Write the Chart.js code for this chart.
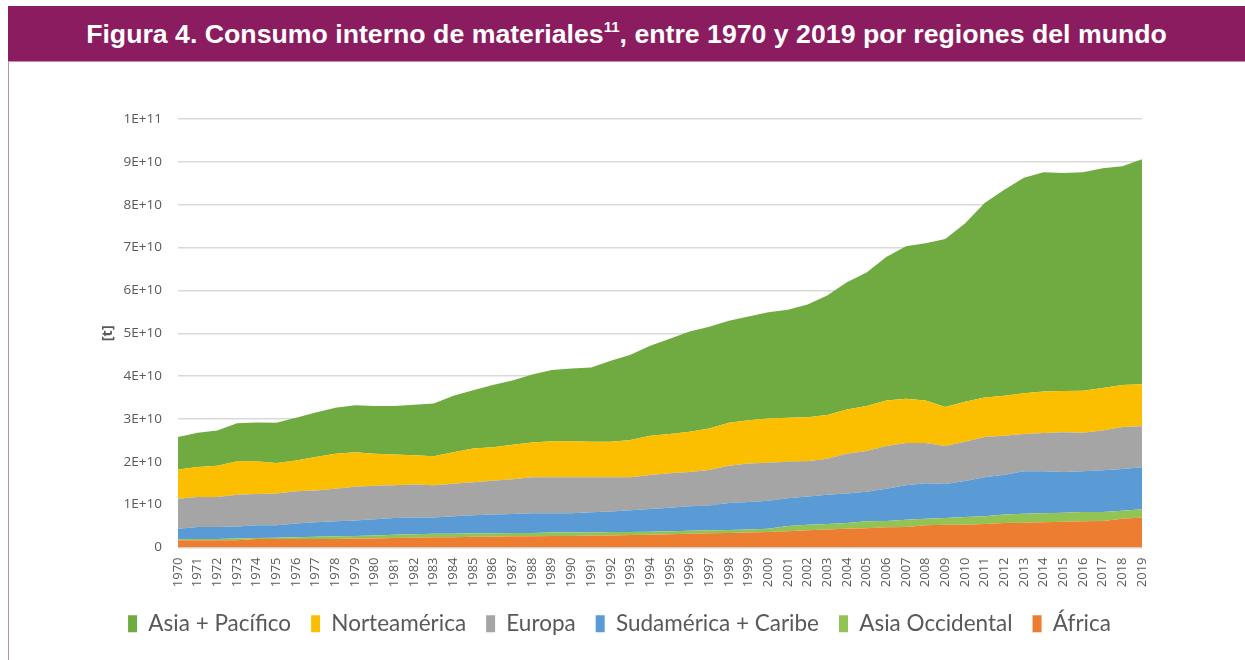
<!DOCTYPE html>
<html>
<head>
<meta charset="utf-8">
<script src="https://cdn.jsdelivr.net/npm/chart.js@4.4.1/dist/chart.umd.min.js"></script>
<style>
  body { margin: 0; background: #fff; width: 1245px; height: 660px; overflow: hidden; position: relative; }
  #header {
    position: absolute; left: 8px; top: 6px; width: 1237px; height: 55px;
    background: #8a1c5f; border-bottom: 1px solid #c58bb0;
    color: #fff; font: bold 26.7px "Liberation Sans", Arial, sans-serif;
    text-align: center; line-height: 56px;
  }
  #header sup { font-size: 15px; line-height: 0; vertical-align: 11px; }
  #frame { position: absolute; left: 8px; top: 62px; width: 1px; height: 598px; background: #c58bb0; }
  #wrap { position: absolute; left: 0; top: 62px; width: 1245px; height: 598px; }
</style>
</head>
<body>
<div id="header">Figura 4. Consumo interno de materiales<sup>11</sup>, entre 1970 y 2019 por regiones del mundo</div>
<div id="frame"></div>
<div id="wrap"><canvas id="chart"></canvas></div>
<script>
// years on the x axis
const years = [];
for (let y = 1970; y <= 2019; y++) years.push(String(y));

// consumption per region, in 1E+09 t
const africa = [1.7,1.7,1.7,1.7,2.0,2.0,2.0,2.0,2.0,2.1,2.1,2.2,2.3,2.4,2.4,2.5,2.5,2.6,2.6,2.7,
  2.7,2.8,2.8,2.9,3.0,3.1,3.2,3.3,3.4,3.5,3.6,3.8,4.0,4.2,4.4,4.5,4.7,4.8,5.2,5.3,
  5.3,5.5,5.7,5.8,5.9,6.0,6.1,6.2,6.7,7.0];
const asiaOcc = [0.2,0.3,0.3,0.4,0.2,0.3,0.4,0.5,0.6,0.6,0.7,0.8,0.8,0.8,0.8,0.8,0.8,0.8,0.8,0.8,
  0.8,0.7,0.8,0.7,0.7,0.7,0.7,0.7,0.7,0.7,0.8,1.2,1.3,1.3,1.3,1.6,1.5,1.7,1.5,1.6,
  1.8,1.8,2.0,2.1,2.1,2.1,2.2,2.1,1.9,1.9];
const sudamerica = [2.5,2.8,2.8,2.8,3.0,2.9,3.2,3.4,3.5,3.6,3.8,3.9,3.9,3.8,4.1,4.2,4.4,4.4,4.6,4.5,
  4.5,4.7,4.8,5.1,5.3,5.5,5.7,5.8,6.3,6.4,6.5,6.5,6.6,6.8,6.9,6.9,7.5,8.0,8.3,7.9,
  8.4,9.1,9.3,9.9,9.8,9.5,9.5,9.7,9.7,9.8];
const europa = [7.0,7.0,7.0,7.4,7.3,7.4,7.5,7.4,7.6,7.9,7.8,7.6,7.7,7.5,7.6,7.7,7.9,8.1,8.4,8.4,
  8.4,8.2,8.0,7.7,7.9,8.0,8.0,8.3,8.7,9.0,8.9,8.5,8.2,8.4,9.3,9.5,10.0,9.9,9.4,8.9,
  9.2,9.4,9.1,8.7,8.9,9.3,9.0,9.3,9.8,9.6];
const norteamerica = [6.8,7.0,7.3,7.8,7.6,7.1,7.2,7.8,8.2,8.0,7.5,7.2,6.8,6.8,7.3,7.9,7.8,8.1,8.1,8.4,
  8.4,8.3,8.3,8.7,9.2,9.2,9.4,9.7,10.0,10.1,10.3,10.3,10.3,10.2,10.3,10.5,10.6,10.3,9.9,9.1,
  9.3,9.2,9.3,9.5,9.7,9.6,9.8,9.9,9.8,9.8];
const asiaPacifico = [7.6,8.0,8.2,8.9,9.1,9.4,10.0,10.4,10.7,11.0,11.1,11.3,11.8,12.3,13.2,13.6,14.5,15.0,15.9,16.6,
  17.0,17.3,18.9,19.9,21.0,22.2,23.4,23.7,23.8,24.2,24.8,25.2,26.3,27.9,29.7,31.2,33.5,35.6,36.7,39.2,
  41.6,45.4,48.1,50.3,51.2,50.9,51.0,51.3,51.1,52.5];

// bottom of the stack first
const series = [
  { label: "África", values: africa, color: "#ed7d31" },
  { label: "Asia Occidental", values: asiaOcc, color: "#92c455" },
  { label: "Sudamérica + Caribe", values: sudamerica, color: "#5b9bd5" },
  { label: "Europa", values: europa, color: "#a5a5a5" },
  { label: "Norteamérica", values: norteamerica, color: "#fbbf00" },
  { label: "Asia + Pacífico", values: asiaPacifico, color: "#70ab42" },
];

const datasets = series.map((s, i) => ({
  label: s.label,
  data: s.values.map((v) => v * 1e9),
  backgroundColor: s.color,
  borderColor: s.color,
  borderWidth: 0,
  pointRadius: 0,
  fill: i === 0 ? "origin" : "-1",
}));

const grey = "#595959";

new Chart("chart", {
  type: "line",
  data: { labels: years, datasets: datasets },
  options: {
    responsive: true,
    maintainAspectRatio: false,
    animation: false,
    layout: { padding: { left: 97, right: 103, top: 57, bottom: 15 } },
    plugins: {
      tooltip: { enabled: false },
      legend: {
        position: "bottom",
        reverse: true,
        labels: {
          boxWidth: 9,
          boxHeight: 17,
          padding: 20,
          color: grey,
          font: { family: "Lato, sans-serif", size: 22.5 },
        },
      },
    },
    scales: {
      x: {
        grid: { display: false, drawTicks: false },
        border: { display: false },
        ticks: {
          autoSkip: false,
          minRotation: 90,
          maxRotation: 90,
          padding: 10,
          color: grey,
          font: { family: "'Open Sans', sans-serif", size: 13 },
        },
        afterFit: (scale) => { scale.height = 45; },
      },
      y: {
        stacked: true,
        min: 0,
        max: 1e11,
        border: { display: false },
        grid: { color: "#d9d9d9", lineWidth: 1.5, drawTicks: false },
        title: {
          display: true,
          text: "[t]",
          color: grey,
          padding: { top: 2, bottom: 0 },
          font: { family: "'Open Sans', sans-serif", size: 14.5, weight: "bold" },
        },
        ticks: {
          stepSize: 1e10,
          padding: 16,
          color: grey,
          font: { family: "'Open Sans', sans-serif", size: 13.5 },
          callback: (v) => (v === 0 ? "0" : v.toExponential(0).toUpperCase()),
        },
        afterFit: (scale) => { scale.width = 81; },
      },
    },
  },
});
</script>
</body>
</html>
